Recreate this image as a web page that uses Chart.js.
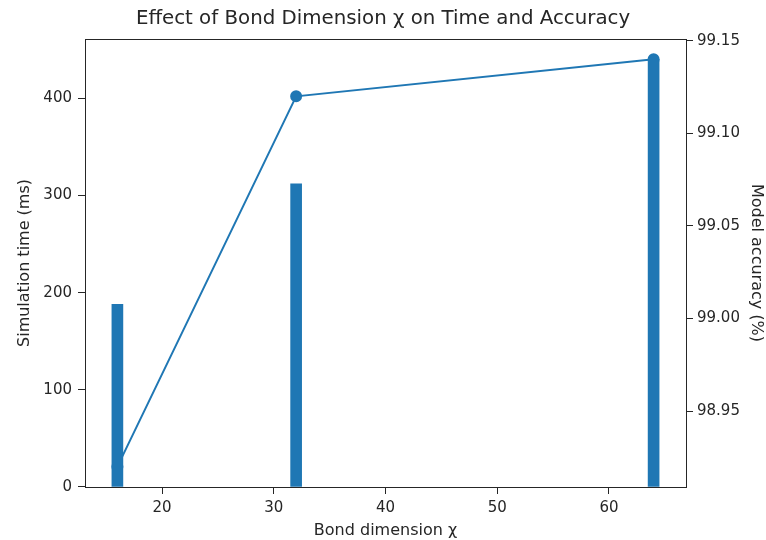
<!DOCTYPE html>
<html>
<head>
    <meta charset="UTF-8">
    <title>Bond dimension</title>
    <script src="https://cdn.jsdelivr.net/npm/chart.js@4/dist/chart.umd.min.js"></script>
    <style>
        html, body { margin: 0; padding: 0; background: #fff; }
    </style>
</head>
<body>
    <canvas id="myChart" width="766" height="540"></canvas>
    <script>
        // values
        var bondDims = [16, 32, 64];
        var simTime = [188, 312, 440];
        var accuracy = [98.92, 99.12, 99.14];

        var xTicks = [20, 30, 40, 50, 60];
        var timeTicks = [0, 100, 200, 300, 400];
        var accTicks = [98.95, 99.00, 99.05, 99.10, 99.15];

        var blue = '#1f77b4';
        var ink = '#262626';
        var font = 'DejaVu Sans';

        function fixTicks(list) {
            return function (scale) {
                scale.ticks = list.map(v => ({ value: v }));
            };
        }

        // box round the plot like matplotlib spines
        var frame = {
            id: 'frame',
            afterDraw(chart) {
                var a = chart.chartArea, c = chart.ctx;
                c.save();
                c.strokeStyle = ink;
                c.lineWidth = 1;
                c.strokeRect(Math.round(a.left) + 0.5, Math.round(a.top) + 0.5,
                    Math.round(a.right - a.left), Math.round(a.bottom - a.top));
                c.restore();
            }
        };
        var white = {
            id: 'white',
            beforeDraw(chart) {
                var c = chart.ctx;
                c.save();
                c.fillStyle = '#fff';
                c.fillRect(0, 0, chart.width, chart.height);
                c.restore();
            }
        };

        var gridOpts = {
            offset: false,
            drawOnChartArea: false,
            drawTicks: true,
            tickLength: 7,
            tickColor: ink
        };

        const data = {
            datasets: [{
                type: 'bar',
                label: 'Time',
                data: bondDims.map((x, i) => ({ x: x, y: simTime[i] })),
                yAxisID: 'y',
                backgroundColor: blue,
                barThickness: 11,
                order: 0
            }, {
                type: 'line',
                label: 'Accuracy',
                data: bondDims.map((x, i) => ({ x: x, y: accuracy[i] })),
                yAxisID: 'y1',
                borderColor: blue,
                backgroundColor: blue,
                borderWidth: 2,
                pointRadius: 5,
                pointHoverRadius: 5,
                tension: 0,
                order: 1
            }]
        };

        const config = {
            data,
            plugins: [white, frame],
            options: {
                responsive: false,
                animation: false,
                layout: { padding: 0 },
                plugins: {
                    legend: { display: false },
                    tooltip: { enabled: false },
                    title: {
                        display: true,
                        text: 'Effect of Bond Dimension χ on Time and Accuracy',
                        color: ink,
                        font: { family: font, size: 19.8, weight: 'normal' },
                        padding: { top: 7, bottom: 8.2 }
                    }
                },
                scales: {
                    x: {
                        type: 'linear',
                        offset: false,
                        min: 13.1,
                        max: 66.9,
                        afterBuildTicks: fixTicks(xTicks),
                        afterFit: s => { s.height = 53; },
                        grid: gridOpts,
                        border: { display: false },
                        ticks: { color: ink, font: { family: font, size: 15 }, padding: 5 },
                        title: {
                            display: true,
                            text: 'Bond dimension χ',
                            color: ink,
                            font: { family: font, size: 16 },
                            padding: { top: 0, bottom: 0 }
                        }
                    },
                    y: {
                        position: 'left',
                        min: 0,
                        max: 461,
                        afterBuildTicks: fixTicks(timeTicks),
                        afterFit: s => { s.width = 85; },
                        grid: gridOpts,
                        border: { display: false },
                        ticks: { color: ink, font: { family: font, size: 15 }, padding: 6 },
                        title: {
                            display: true,
                            text: 'Simulation time (ms)',
                            color: ink,
                            font: { family: font, size: 16 },
                            padding: { top: 15, bottom: 0 }
                        }
                    },
                    y1: {
                        position: 'right',
                        min: 98.909,
                        max: 99.151,
                        afterBuildTicks: fixTicks(accTicks),
                        afterFit: s => { s.width = 80; },
                        grid: gridOpts,
                        border: { display: false },
                        ticks: {
                            color: ink,
                            font: { family: font, size: 15 },
                            padding: 4,
                            callback: v => v.toFixed(2)
                        },
                        title: {
                            display: true,
                            text: 'Model accuracy (%)',
                            color: ink,
                            font: { family: font, size: 16 },
                            padding: { top: 0, bottom: 0 }
                        }
                    }
                }
            }
        };

        var myChart = new Chart(document.getElementById('myChart'), config);
    </script>
</body>
</html>
